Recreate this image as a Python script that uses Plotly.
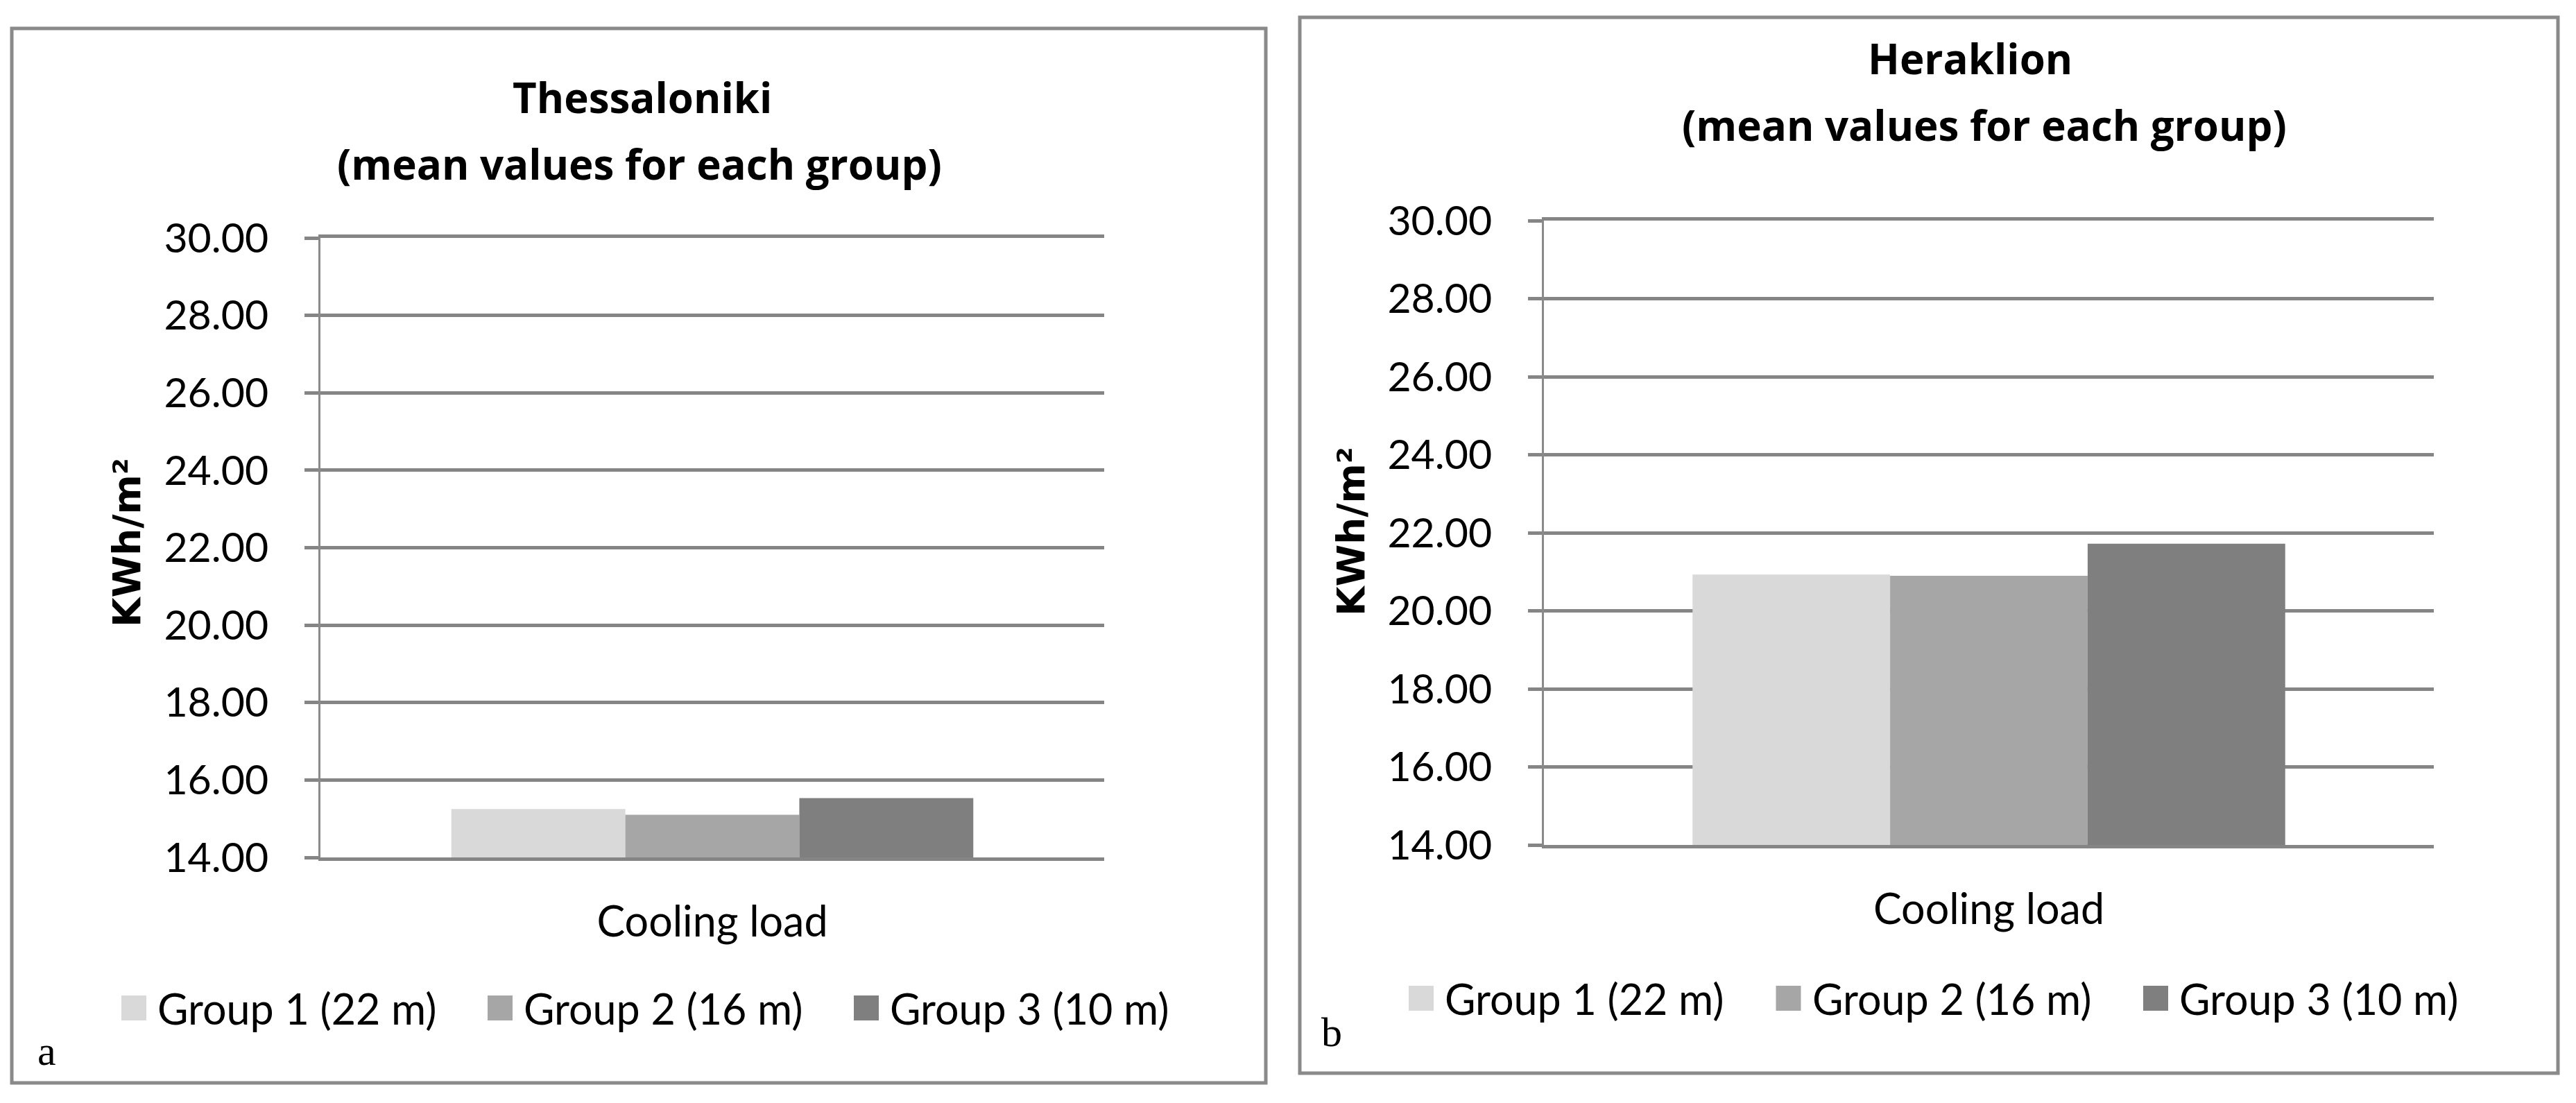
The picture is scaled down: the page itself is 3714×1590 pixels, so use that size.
import plotly.graph_objects as go

# ---------------- data ----------------
categories = ["Cooling load"]
groups = ["Group 1 (22 m)", "Group 2 (16 m)", "Group 3 (10 m)"]
colors = ["#D9D9D9", "#A6A6A6", "#7F7F7F"]
thessaloniki = [15.25, 15.10, 15.53]
heraklion = [20.93, 20.90, 21.72]
y_ticks = [14, 16, 18, 20, 22, 24, 26, 28, 30]
y_tick_labels = ["14.00", "16.00", "18.00", "20.00", "22.00", "24.00", "26.00", "28.00", "30.00"]
titles_line1 = ["Thessaloniki", "Heraklion"]
titles_line2 = ["(mean values for each group)", "(mean values for each group)"]
y_title = "KWh/m²"
panel_labels = ["a", "b"]

# ---------------- layout helpers ----------------
W, H = 3714, 1590
def px(x):
    return x / W
def py(y):
    return 1 - y / H

GRID = "#858585"
FRAME = "#8a8a8a"
FONT = "Lato, 'Open Sans', sans-serif"
TFONT = "'Open Sans', Lato, sans-serif"

panels = [
    dict(vals=thessaloniki, xd=(462, 1592), yd=(1236, 343), frame=(17, 41, 1825, 1561),
         t1=(926, 140), t2=(922, 236), ytitle=(183, 782), leg=(175, 1453), leg_dx=528,
         lab=(52, 1515)),
    dict(vals=heraklion, xd=(2226, 3509), yd=(1218, 318), frame=(1874, 25, 3688, 1547),
         t1=(2840, 84), t2=(2861, 180), ytitle=(1948, 766), leg=(2031, 1439), leg_dx=529.5,
         lab=(1903, 1488)),
]

fig = go.Figure()
shapes = []
annotations = []

for p_i, p in enumerate(panels):
    xa = "x" if p_i == 0 else "x2"
    ya = "y" if p_i == 0 else "y2"
    for g_i, g in enumerate(groups):
        fig.add_trace(go.Bar(
            x=categories, y=[p["vals"][g_i]], name=g,
            marker=dict(color=colors[g_i], line=dict(width=0)),
            xaxis=xa, yaxis=ya, showlegend=False,
        ))

    ax_suffix = "" if p_i == 0 else "2"
    fig.update_layout(**{
        "xaxis" + ax_suffix: dict(
            domain=[px(p["xd"][0]), px(p["xd"][1])], anchor=ya,
            showline=True, linecolor=GRID, linewidth=5, mirror=True, showgrid=False,
            ticks="", tickfont=dict(family=FONT, size=61, color="black"),
            ticklabelstandoff=36, fixedrange=True, automargin=False,
        ),
        "yaxis" + ax_suffix: dict(
            domain=[py(p["yd"][0]), py(p["yd"][1])], anchor=xa,
            range=[14, 30], tickvals=y_ticks, ticktext=y_tick_labels,
            ticks="outside", ticklen=20, tickwidth=5, tickcolor=GRID,
            showgrid=True, gridcolor=GRID, gridwidth=5, zeroline=False,
            showline=True, linecolor=FRAME, linewidth=3,
            tickfont=dict(family=FONT, size=59, color="black"),
            ticklabelstandoff=40, fixedrange=True, automargin=False,
        ),
    })

    # frame around each chart
    fx0, fy0, fx1, fy1 = p["frame"]
    shapes.append(dict(type="rect", xref="paper", yref="paper",
                       x0=px(fx0), x1=px(fx1), y0=py(fy1), y1=py(fy0),
                       line=dict(color=FRAME, width=5), fillcolor="rgba(0,0,0,0)", layer="below"))

    # titles
    annotations.append(dict(text="<b>" + titles_line1[p_i] + "</b>", x=px(p["t1"][0]), y=py(p["t1"][1]),
                            xref="paper", yref="paper", showarrow=False, xanchor="center", yanchor="middle",
                            font=dict(family=TFONT, size=60, color="black")))
    annotations.append(dict(text="<b>" + titles_line2[p_i] + "</b>", x=px(p["t2"][0]), y=py(p["t2"][1]),
                            xref="paper", yref="paper", showarrow=False, xanchor="center", yanchor="middle",
                            font=dict(family=TFONT, size=60, color="black")))
    # y axis title
    annotations.append(dict(text="<b>" + y_title + "</b>", x=px(p["ytitle"][0]), y=py(p["ytitle"][1]),
                            xref="paper", yref="paper", showarrow=False, textangle=-90,
                            xanchor="center", yanchor="middle",
                            font=dict(family="'DejaVu Sans', sans-serif", size=55, color="black")))
    # legend (squares + labels)
    lx, ly = p["leg"]
    for g_i, g in enumerate(groups):
        sx = lx + g_i * p["leg_dx"]
        shapes.append(dict(type="rect", xref="paper", yref="paper",
                           x0=px(sx), x1=px(sx + 36), y0=py(ly + 18), y1=py(ly - 18),
                           line=dict(width=0), fillcolor=colors[g_i]))
        annotations.append(dict(text=g, x=px(sx + 50), y=py(ly), xref="paper", yref="paper",
                                showarrow=False, xanchor="left", yanchor="middle",
                                font=dict(family=FONT, size=61, color="black")))
    # panel label
    annotations.append(dict(text=panel_labels[p_i], x=px(p["lab"][0]), y=py(p["lab"][1]),
                            xref="paper", yref="paper", showarrow=False, xanchor="left", yanchor="middle",
                            font=dict(family="'Liberation Serif', 'Times New Roman', serif", size=60, color="black")))

fig.update_layout(
    width=W, height=H,
    margin=dict(l=0, r=0, t=0, b=0, pad=0, autoexpand=False),
    paper_bgcolor="white", plot_bgcolor="white",
    barmode="group", bargap=0.334, bargroupgap=0,
    shapes=shapes, annotations=annotations,
    showlegend=False,
)

fig.write_html("out.html",
               config={"displayModeBar": False, "staticPlot": False},
               post_script="document.body.style.margin='0';document.body.style.overflow='hidden';")
